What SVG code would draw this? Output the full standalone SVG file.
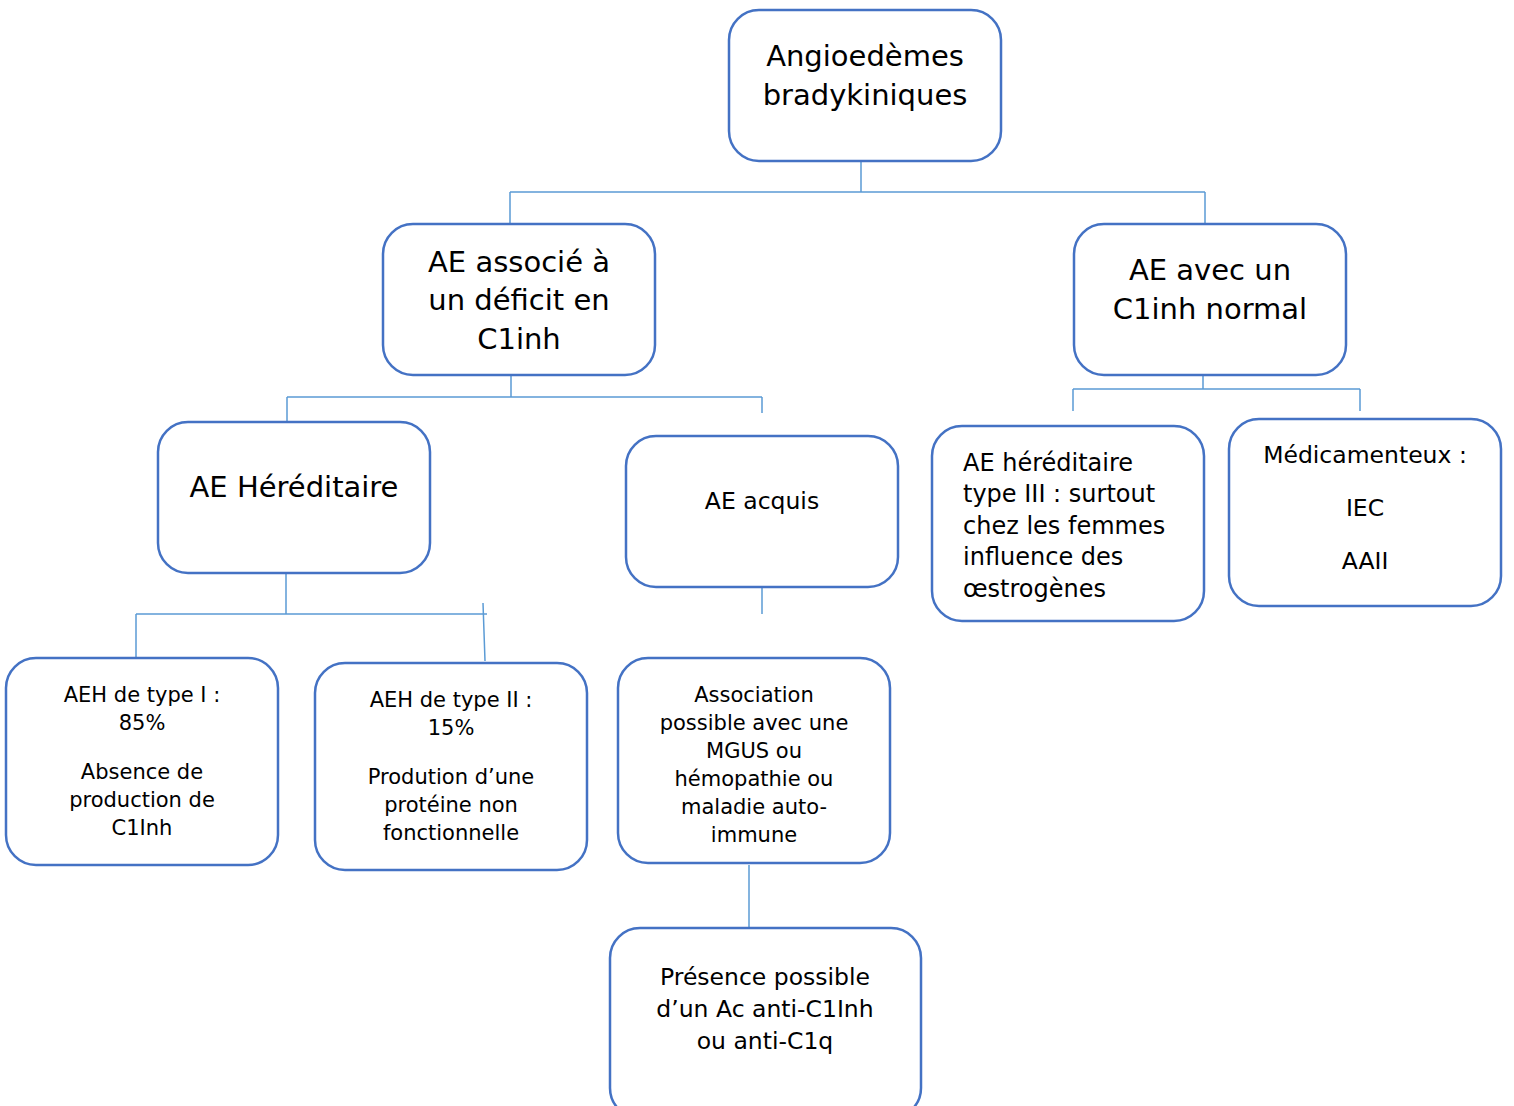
<svg xmlns="http://www.w3.org/2000/svg" width="1514" height="1106" viewBox="0 0 1514 1106">
<style>
.box{fill:#fff;stroke:#4472C4;stroke-width:2.5}
.c{fill:none;stroke:#5B9BD5;stroke-width:1.5}
text{font-family:"DejaVu Sans",Verdana,sans-serif;fill:#000}
.L{font-size:29px;text-anchor:middle}
.M{font-size:23.5px;text-anchor:middle}
.Ml{font-size:24px}
.S{font-size:21px;text-anchor:middle}
</style>
<rect width="1514" height="1106" fill="#fff"/>
<g id="connectors">
<path class="c" d="M861 157V192M510 192H1205M510 192V224M1205 192V224"/>
<path class="c" d="M511 375V397M287 397H762M287 397V422M762 397V413"/>
<path class="c" d="M1203 375V389M1073 389H1360M1073 389V411M1360 389V411"/>
<path class="c" d="M286 573V614M136 614H487M136 614V658M483 603L485 661"/>
<path class="c" d="M762 587V614"/>
<path class="c" d="M749 865V943"/>
</g>
<g id="root"><rect class="box" x="729" y="10" width="272" height="151" rx="30"/>
<text class="L" x="865" y="66">Angioedèmes</text><text class="L" x="865" y="105">bradykiniques</text></g>
<g id="deficit"><rect class="box" x="383" y="224" width="272" height="151" rx="30"/>
<text class="L" x="519" y="272">AE associé à</text><text class="L" x="519" y="310">un déficit en</text><text class="L" x="519" y="349">C1inh</text></g>
<g id="normal"><rect class="box" x="1074" y="224" width="272" height="151" rx="30"/>
<text class="L" x="1210" y="280">AE avec un</text><text class="L" x="1210" y="319">C1inh normal</text></g>
<g id="hereditaire"><rect class="box" x="158" y="422" width="272" height="151" rx="30"/>
<text class="L" x="294" y="497">AE Héréditaire</text></g>
<g id="acquis"><rect class="box" x="626" y="436" width="272" height="151" rx="30"/>
<text class="M" x="762" y="509">AE acquis</text></g>
<g id="type3"><rect class="box" x="932" y="426" width="272" height="195" rx="30"/>
<text class="Ml" x="963" y="471">AE héréditaire</text><text class="Ml" x="963" y="502">type III : surtout</text><text class="Ml" x="963" y="534">chez les femmes</text><text class="Ml" x="963" y="565">influence des</text><text class="Ml" x="963" y="597">œstrogènes</text></g>
<g id="medic"><rect class="box" x="1229" y="419" width="272" height="187" rx="30"/>
<text class="M" x="1365" y="463">Médicamenteux :</text><text class="M" x="1365" y="516">IEC</text><text class="M" x="1365" y="569">AAII</text></g>
<g id="type1"><rect class="box" x="6" y="658" width="272" height="207" rx="30"/>
<text class="S" x="142" y="702">AEH de type I :</text><text class="S" x="142" y="730">85%</text><text class="S" x="142" y="779">Absence de</text><text class="S" x="142" y="807">production de</text><text class="S" x="142" y="835">C1Inh</text></g>
<g id="type2"><rect class="box" x="315" y="663" width="272" height="207" rx="30"/>
<text class="S" x="451" y="707">AEH de type II :</text><text class="S" x="451" y="735">15%</text><text class="S" x="451" y="784">Prodution d’une</text><text class="S" x="451" y="812">protéine non</text><text class="S" x="451" y="840">fonctionnelle</text></g>
<g id="association"><rect class="box" x="618" y="658" width="272" height="205" rx="30"/>
<text class="S" x="754" y="702">Association</text><text class="S" x="754" y="730">possible avec une</text><text class="S" x="754" y="758">MGUS ou</text><text class="S" x="754" y="786">hémopathie ou</text><text class="S" x="754" y="814">maladie auto-</text><text class="S" x="754" y="842">immune</text></g>
<g id="presence"><rect class="box" x="610" y="928" width="311" height="190" rx="30"/>
<text class="M" x="765" y="985">Présence possible</text><text class="M" x="765" y="1017">d’un Ac anti-C1Inh</text><text class="M" x="765" y="1049">ou anti-C1q</text></g>
</svg>
